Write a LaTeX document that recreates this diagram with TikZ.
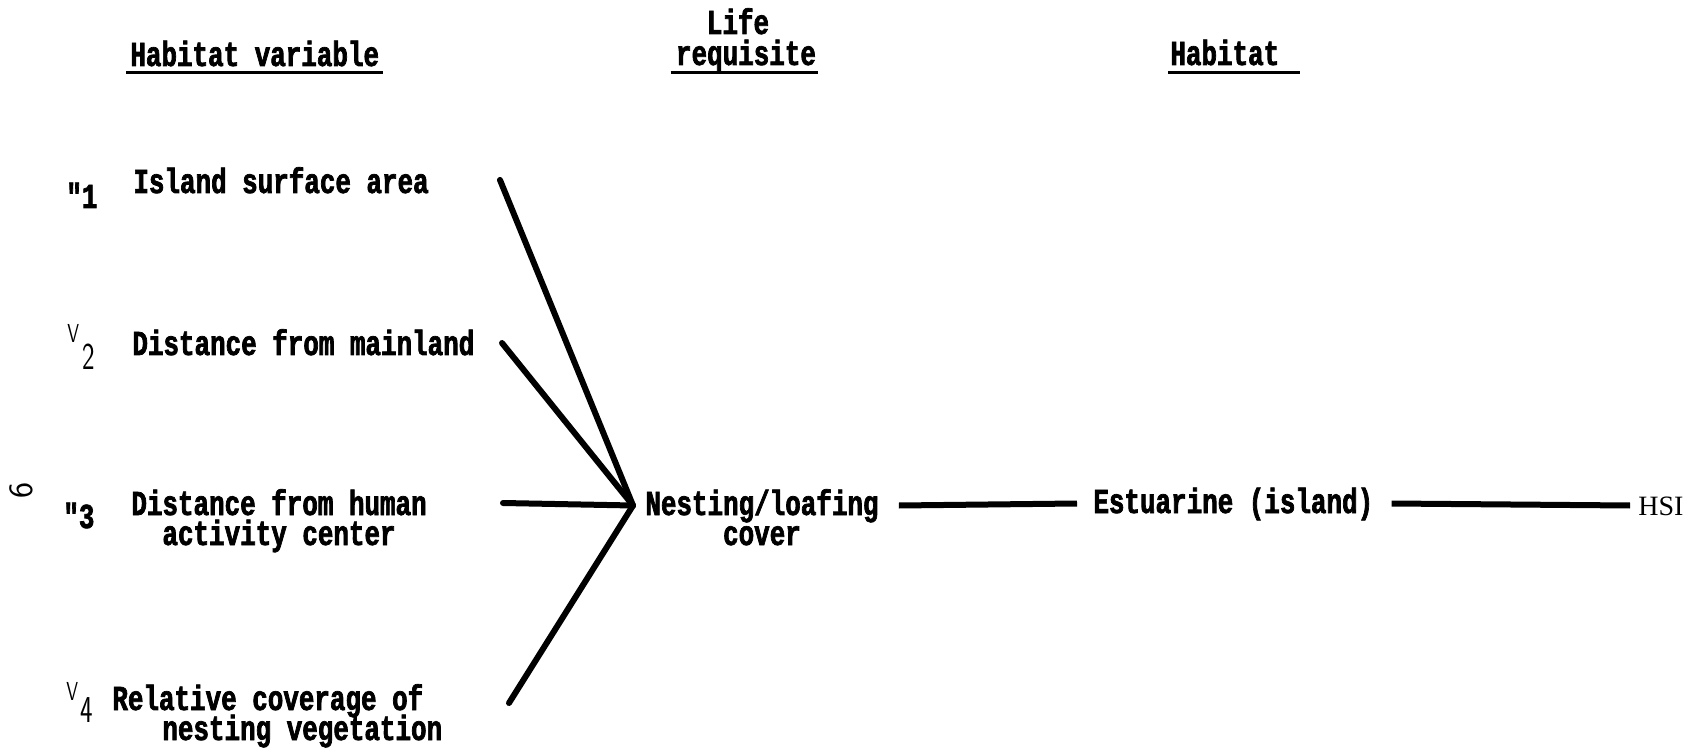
\documentclass[tikz,border=0pt]{standalone}
\usepackage{fontspec}
\usetikzlibrary{positioning}
\setmainfont{Liberation Serif}
\newfontfamily\twfont[FakeStretch=0.74,FakeBold=2]{Liberation Mono Bold}
\newfontfamily\vfont[FakeStretch=0.7]{Latin Modern Sans}

\begin{document}
\begin{tikzpicture}[x=0.5pt,y=-0.5pt,
		lab/.style={inner sep=0pt,anchor=base west,text height=12pt,text depth=2.5pt,
			font=\twfont\fontsize{17.5}{15}\selectfont},
		vsym/.style={inner sep=0pt,anchor=base west,font=\vfont\fontsize{13}{13}\selectfont},
		vsub/.style={inner sep=0pt,anchor=base west,font=\vfont\fontsize{19}{19}\selectfont},
		link/.style={line width=3pt,line cap=round},
		uline/.style={line width=1.5pt}]
		\useasboundingbox (0,0) rectangle (1696,748);
		% column heads
		\node[lab] (hv) at (130,66) {Habitat variable};
		\node[lab,anchor=base] (lr2) at (746,65) {requisite};
		\node[lab,anchor=base] (lr1) at ([xshift=-4pt,yshift=15.5pt]lr2.base) {Life};
		\node[lab] (hab) at (1170,65) {Habitat};
		\draw[uline] ([xshift=-2pt,yshift=-3.5pt]hv.base west) -- ([xshift=2pt,yshift=-3.5pt]hv.base east);
		\draw[uline] ([xshift=-2.5pt,yshift=-4pt]lr2.base west) -- ([xshift=1pt,yshift=-4pt]lr2.base east);
		\draw[uline] ([xshift=-1pt,yshift=-4pt]hab.base west) -- ([xshift=10pt,yshift=-4pt]hab.base east);
		%
		\node[inner sep=0pt,rotate=90,font=\sffamily\fontsize{17}{17}\selectfont] (pg) at (21,491) {6};
		% variables
		\node[lab] (v1) at (66,208) {"1};
		\node[lab] (v1txt) at (133,193) {Island surface area};
		\node[vsym] (v2) at (67,343) {V};
		\node[vsub] (v2s) at (82,370) {2};
		\node[lab] (v2txt) at (132,355) {Distance from mainland};
		\node[lab] (v3) at (63,528) {"3};
		\node[lab] (v3txt) at (131,515) {Distance from human};
		\node[lab,anchor=base] (v3b) at ([yshift=-15pt]v3txt.base) {activity center};
		\node[vsym] (v4) at (66,700) {V};
		\node[vsub] (v4s) at (80,722) {4};
		\node[lab] (v4txt) at (112,710) {Relative coverage of};
		\node[lab] (v4b) at ([xshift=25pt,yshift=-15pt]v4txt.base west) {nesting vegetation};
		% requisite, habitat, index
		\node[lab] (nest) at (645,515) {Nesting/loafing};
		\node[lab,anchor=base] (nestb) at ([yshift=-15pt]nest.base) {cover};
		\node[lab] (est) at (1093,513) {Estuarine (island)};
		\node[inner sep=0pt,anchor=base west,text height=12pt,text depth=2.5pt,
			font=\fontsize{14}{14}\selectfont] (hsi) at (1638,515) {HSI};
		%
		\coordinate (hub) at ([xshift=-6pt]nest.west);
		\coordinate (e1) at (500,180);
		\coordinate (e2) at (502,343);
		\coordinate (e3) at (503,503);
		\coordinate (e4) at (509,703);
		\foreach \e in {e1,e2,e3,e4}
			\draw[link] (\e) -- (hub);
		\draw[line width=3pt] ([xshift=10pt]nest.east) -- ([xshift=-8pt]est.west);
		\draw[line width=3pt] ([xshift=9pt]est.east) -- ([xshift=-4pt]hsi.west);
	\end{tikzpicture}
\end{document}
